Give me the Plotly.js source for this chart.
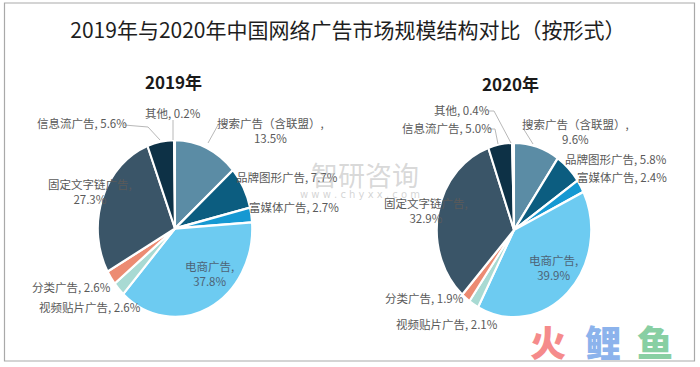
<!DOCTYPE html>
<html>
<head>
<meta charset="utf-8">
<script src="https://cdn.plot.ly/plotly-3.0.1.min.js"></script>
<style>
  html, body { margin: 0; padding: 0; background: #ffffff; }
  #chart { width: 700px; height: 367px; }
</style>
</head>
<body>
<div id="chart"></div>
<script>
// ---- data ----
const categories = ['搜索广告（含联盟）', '品牌图形广告', '富媒体广告', '电商广告', '视频贴片广告', '分类广告', '固定文字链广告', '信息流广告', '其他'];
const values2019 = [13.5, 7.7, 2.7, 37.8, 2.6, 2.6, 27.3, 5.6, 0.2];
const values2020 = [9.6, 5.8, 2.4, 39.9, 2.1, 1.9, 32.9, 5.0, 0.4];
const yearLabels = ['2019年', '2020年'];
const chartTitle = '2019年与2020年中国网络广告市场规模结构对比（按形式）';

// ---- styles ----
const sliceColors = ['#5b8ca5', '#0c5d80', '#1598d2', '#6dcbf1', '#a8dad3', '#ec8b72', '#3a5568', '#0d3146', '#dde5ea'];
const W = 700, H = 367;
const px = x => x / W;
const py = y => 1 - y / H;

// pie geometry (pixels); pies are drawn slightly elliptical like the reference
const R = 83;
const pies = [
  { cx: 175, cy: 228.5, values: values2019, sx: 0.93, sy: 1.065 },
  { cx: 514, cy: 230, values: values2020, sx: 0.93, sy: 1.05 }
];

// label positions (pixel centers) per category index, and which ones break lines
const twoLine = new Set([0, 3, 6]);
const labelPos = [
  [[270, 130], [287, 177], [294, 207], [209, 273], [90, 307], [71, 287], [90, 191], [82, 123], [173, 113]],
  [[575, 131], [616, 159], [622, 177], [553, 267], [447, 324], [424, 298], [426, 210], [447, 128], [462, 110]]
];
const labelColor = i => (i === 3 ? '#4d6476' : '#5a5a5a');

// leader lines (pixel paths)
const leaders = [
  'M 124 125 L 148 127 L 160 140',
  'M 173 120 L 173 140',
  'M 218 125 L 208 143',
  'M 489 111 L 494 111 L 511 143',
  'M 489 129 L 495 129 L 498 144',
  'M 523 128 L 533 144'
];

const traces = pies.map((p, k) => ({
  type: 'pie',
  labels: categories,
  values: p.values,
  sort: false,
  direction: 'clockwise',
  rotation: 0,
  textinfo: 'none',
  hoverinfo: 'label+percent',
  marker: { colors: sliceColors, line: { color: '#ffffff', width: 2.2 } },
  showlegend: false,
  domain: {
    x: [px(p.cx - R), px(p.cx + R)],
    y: [py(p.cy + R), py(p.cy - R)]
  }
}));

const annotations = [];
pies.forEach((p, k) => {
  categories.forEach((c, i) => {
    const txt = c + ',' + (twoLine.has(i) ? '<br>' : ' ') + p.values[i].toFixed(1) + '%';
    annotations.push({
      xref: 'paper', yref: 'paper',
      x: px(labelPos[k][i][0]), y: py(labelPos[k][i][1]),
      xanchor: 'center', yanchor: 'middle',
      text: txt, showarrow: false, align: 'center',
      font: { family: 'Noto Sans CJK SC, sans-serif', size: 11.5, color: labelColor(i) }
    });
  });
});
// year subtitles
[[173, 81], [510, 83]].forEach((pos, k) => {
  annotations.push({
    xref: 'paper', yref: 'paper', x: px(pos[0]), y: py(pos[1]),
    xanchor: 'center', yanchor: 'middle', showarrow: false,
    text: '<b>' + yearLabels[k] + '</b>',
    font: { family: 'Noto Sans CJK SC, sans-serif', size: 17, color: '#1a1a1a' }
  });
});
// watermarks
annotations.push({
  xref: 'paper', yref: 'paper', x: px(365), y: py(174), xanchor: 'center', yanchor: 'middle',
  showarrow: false, text: '智研咨询',
  font: { family: 'Noto Sans CJK SC, sans-serif', size: 27, color: 'rgba(170,170,170,0.45)' }
});
annotations.push({
  xref: 'paper', yref: 'paper', x: px(360), y: py(194), xanchor: 'center', yanchor: 'middle',
  showarrow: false, text: 'w w w . c h y x x . c o m',
  font: { family: 'DejaVu Sans, sans-serif', size: 10, color: 'rgba(170,170,170,0.5)' }
});
[['火', 548, '#f58b8b'], ['鲤', 603, '#8cb3ec'], ['鱼', 655, '#88cfa3']].forEach(w => {
  annotations.push({
    xref: 'paper', yref: 'paper', x: px(w[1]), y: py(341), xanchor: 'center', yanchor: 'middle',
    showarrow: false, text: w[0],
    font: { family: 'Noto Sans CJK SC, sans-serif', size: 36, weight: 900, color: w[2] }
  });
});

const shapes = [
  { type: 'rect', xref: 'paper', yref: 'paper', x0: px(4.5), x1: px(694.5), y0: py(361), y1: py(3),
    line: { color: '#a9a9a9', width: 1.2 }, fillcolor: 'rgba(0,0,0,0)', layer: 'below' }
];
leaders.forEach(d => {
  const parts = d.split(' ');
  let out = '';
  for (let i = 0; i < parts.length; i++) {
    if (parts[i] === 'M' || parts[i] === 'L') {
      out += parts[i] + ' ' + px(+parts[i + 1]) + ',' + py(+parts[i + 2]) + ' ';
      i += 2;
    }
  }
  shapes.push({ type: 'path', xref: 'paper', yref: 'paper', path: out.trim(),
    line: { color: '#b8b8b8', width: 1 } });
});

const layout = {
  width: W, height: H,
  margin: { l: 0, r: 0, t: 0, b: 0 },
  paper_bgcolor: '#ffffff',
  title: {
    text: chartTitle,
    x: 0.497, xanchor: 'center', y: py(31), yanchor: 'middle', yref: 'paper',
    font: { family: 'Noto Sans CJK SC, sans-serif', size: 21, color: '#1e1e1e' }
  },
  annotations: annotations,
  shapes: shapes
};

Plotly.newPlot('chart', traces, layout, { displayModeBar: false, staticPlot: true }).then(gd => {
  // stretch each pie into the slightly tall ellipse of the reference
  const groups = gd.querySelectorAll('.pielayer .trace');
  groups.forEach((g, k) => {
    const p = pies[k];
    if (!p) return;
    g.setAttribute('transform',
      'translate(' + p.cx + ',' + p.cy + ') scale(' + p.sx + ',' + p.sy + ') translate(' + (-p.cx) + ',' + (-p.cy) + ')');
  });
});
</script>
</body>
</html>
